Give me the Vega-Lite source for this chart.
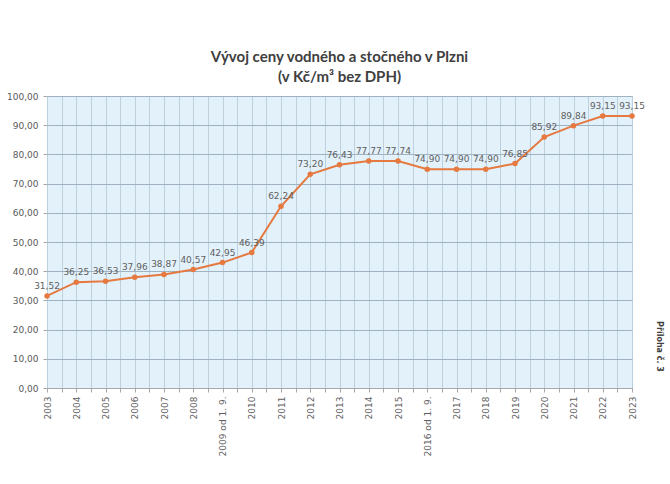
{
  "$schema": "https://vega.github.io/schema/vega-lite/v6.json",
  "width": 585,
  "height": 292,
  "autosize": "none",
  "padding": {"left": 47, "top": 96, "right": 38, "bottom": 96},
  "background": "white",
  "config": {
    "locale": {"number": {"decimal": ",", "thousands": " ", "grouping": [3], "currency": ["", " Kč"]}},
    "view": {"fill": "#E3F1FB", "stroke": "#B7C9D6"},
    "font": "DejaVu Sans"
  },
  "title": {
    "text": ["Vývoj ceny vodného a stočného v Plzni", "(v Kč/m³ bez DPH)"],
    "font": "Lato",
    "fontSize": 15,
    "fontWeight": "bold",
    "color": "#404040",
    "anchor": "middle",
    "lineHeight": 20,
    "offset": 7
  },
  "data": {
    "values": [
      {"i": 0, "rok": "2003", "cena": 31.52},
      {"i": 1, "rok": "2004", "cena": 36.25},
      {"i": 2, "rok": "2005", "cena": 36.53},
      {"i": 3, "rok": "2006", "cena": 37.96},
      {"i": 4, "rok": "2007", "cena": 38.87},
      {"i": 5, "rok": "2008", "cena": 40.57},
      {"i": 6, "rok": "2009 od 1. 9.", "cena": 42.95},
      {"i": 7, "rok": "2010", "cena": 46.39},
      {"i": 8, "rok": "2011", "cena": 62.24},
      {"i": 9, "rok": "2012", "cena": 73.20},
      {"i": 10, "rok": "2013", "cena": 76.43},
      {"i": 11, "rok": "2014", "cena": 77.77},
      {"i": 12, "rok": "2015", "cena": 77.74},
      {"i": 13, "rok": "2016 od 1. 9.", "cena": 74.90},
      {"i": 14, "rok": "2017", "cena": 74.90},
      {"i": 15, "rok": "2018", "cena": 74.90},
      {"i": 16, "rok": "2019", "cena": 76.85},
      {"i": 17, "rok": "2020", "cena": 85.92},
      {"i": 18, "rok": "2021", "cena": 89.84},
      {"i": 19, "rok": "2022", "cena": 93.15},
      {"i": 20, "rok": "2023", "cena": 93.15}
    ]
  },
  "encoding": {
    "x": {
      "field": "i",
      "type": "quantitative",
      "scale": {"domain": [0, 20], "nice": false, "zero": false},
      "axis": {
        "title": null,
        "values": [0,0.5,1,1.5,2,2.5,3,3.5,4,4.5,5,5.5,6,6.5,7,7.5,8,8.5,9,9.5,10,10.5,11,11.5,12,12.5,13,13.5,14,14.5,15,15.5,16,16.5,17,17.5,18,18.5,19,19.5,20],
        "labelExpr": "datum.value % 1 == 0 ? ['2003','2004','2005','2006','2007','2008','2009 od 1. 9.','2010','2011','2012','2013','2014','2015','2016 od 1. 9.','2017','2018','2019','2020','2021','2022','2023'][datum.value] : ''",
        "labelAngle": 270,
        "labelFontSize": 9,
        "labelColor": "#5f5f5f",
        "labelPadding": 4,
        "labelOverlap": false,
        "labelFlush": false,
        "domainColor": "#A8A8A8",
        "tickColor": "#A8A8A8",
        "tickSize": 4,
        "grid": true,
        "gridColor": "#BCD0DE",
        "gridWidth": 1
      }
    },
    "y": {
      "field": "cena",
      "type": "quantitative",
      "scale": {"domain": [0, 100], "nice": false},
      "axis": {
        "title": null,
        "values": [0,10,20,30,40,50,60,70,80,90,100],
        "format": ".2f",
        "labelFontSize": 9,
        "labelColor": "#595959",
        "labelPadding": 5,
        "domain": false,
        "tickSize": 4,
        "tickColor": "#A8A8A8",
        "grid": true,
        "gridColor": "#9FB3C3",
        "gridWidth": 1.2
      }
    }
  },
  "layer": [
    {
      "mark": {
        "type": "line",
        "color": "#E5793F",
        "strokeWidth": 2,
        "point": {"filled": true, "size": 30, "color": "#E5793F"}
      }
    },
    {
      "mark": {"type": "text", "dy": -10, "fontSize": 9, "color": "#606060"},
      "encoding": {
        "text": {"field": "cena", "type": "quantitative", "format": ".2f"},
        "y": {
          "field": "cena",
          "type": "quantitative",
          "scale": {"domain": [0, 100], "nice": false},
          "axis": {
            "orient": "right",
            "labels": false,
            "ticks": false,
            "domain": false,
            "grid": false,
            "title": "Příloha č. 3",
            "titleAngle": 90,
            "titleFontSize": 8,
            "titleFontWeight": "bold",
            "titleColor": "#404040",
            "titleY": 250,
            "titlePadding": 22
          }
        }
      }
    }
  ],
  "resolve": {"axis": {"y": "independent"}}
}
